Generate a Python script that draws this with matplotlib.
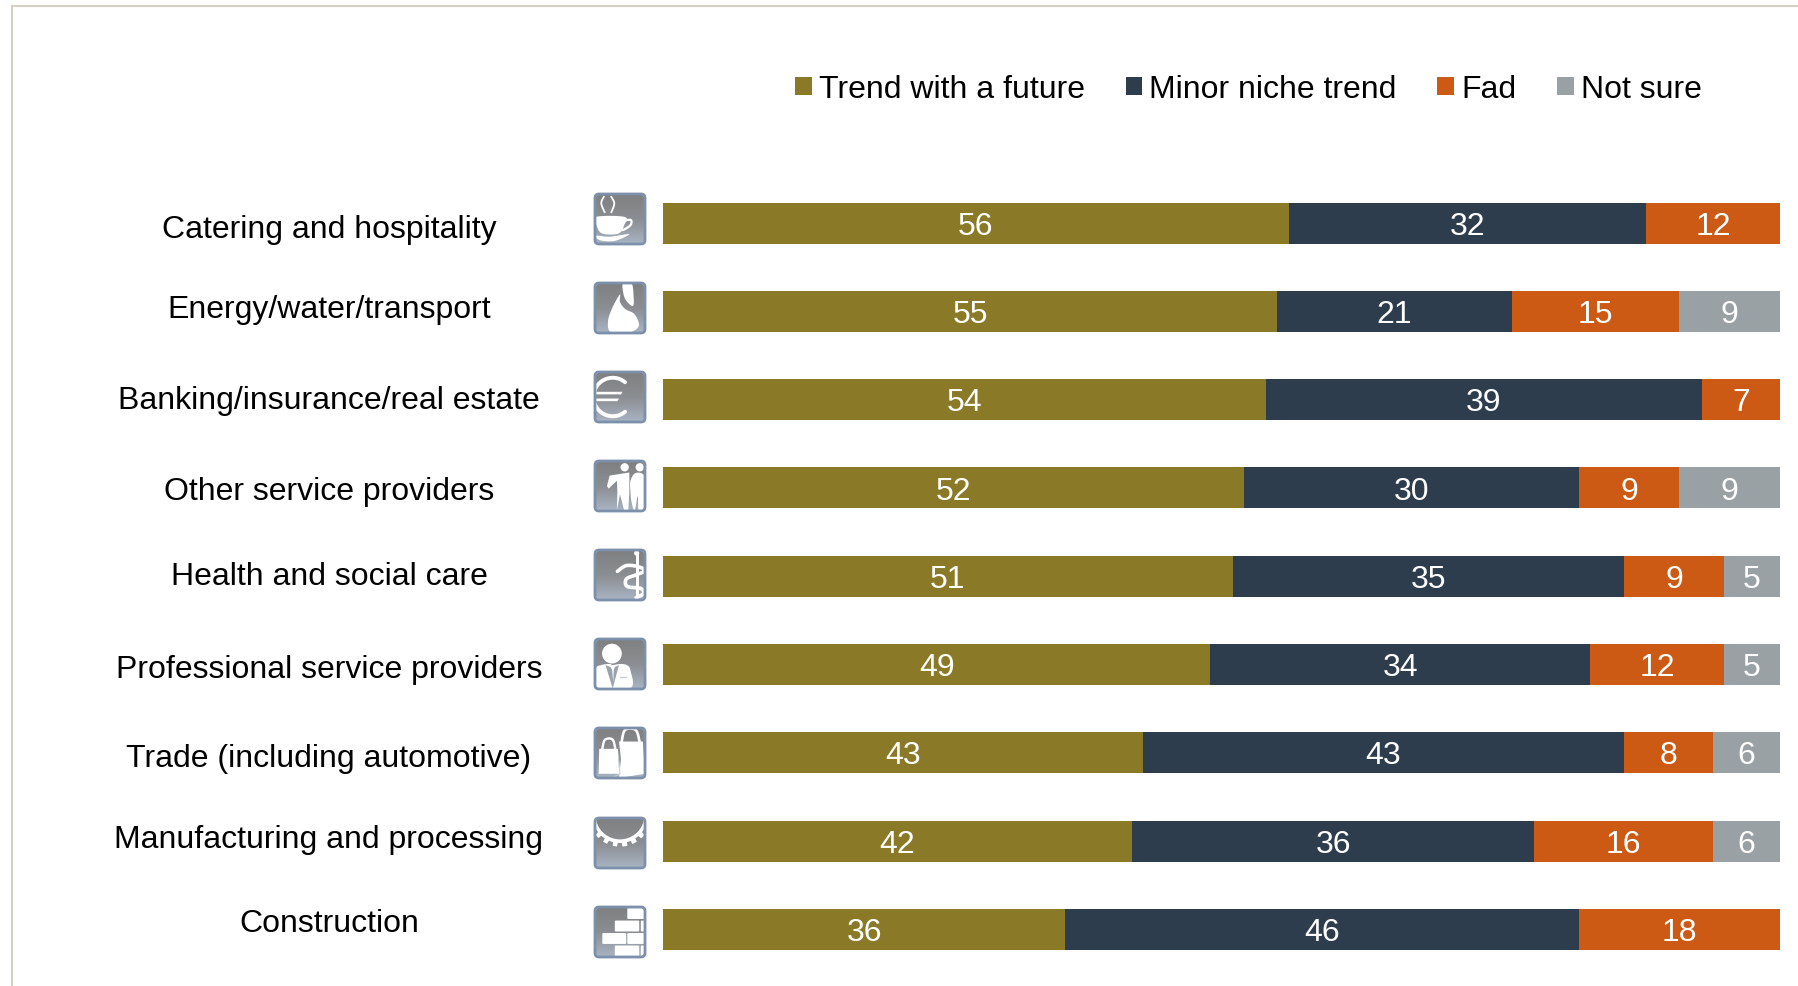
"""
    Stacked bars: how each industry rates the trend, with a small pictogram per row
"""

import matplotlib
matplotlib.use("Agg")
import matplotlib.pyplot as plt
from matplotlib.patches import FancyBboxPatch, Polygon, Circle
from matplotlib.colors import LinearSegmentedColormap
import numpy as np

plt.rcParams['font.family'] = ['Liberation Sans', 'DejaVu Sans']

W, H = 1799, 987

industries = ["Catering and hospitality", "Energy/water/transport", "Banking/insurance/real estate",
              "Other service providers", "Health and social care", "Professional service providers",
              "Trade (including automotive)", "Manufacturing and processing", "Construction"]

series_names = ["Trend with a future", "Minor niche trend", "Fad", "Not sure"]
trend_future = [56, 55, 54, 52, 51, 49, 43, 42, 36]
minor_niche = [32, 21, 39, 30, 35, 34, 43, 36, 46]
fad = [12, 15, 7, 9, 9, 12, 8, 16, 18]
not_sure = [0, 9, 0, 9, 5, 5, 6, 6, 0]

COLORS = ["#8a7a28", "#2e3d4e", "#cc5a14", "#9aa1a5"]
FRAME = "#d4cfc0"
ICON_EDGE = "#7c90ab"
FONT = 23

# pixel layout of the row labels and pictograms
label_y = [230, 310, 401, 492, 577, 670, 759, 840, 924]
icon_top = [194, 283, 372, 461, 550, 639, 728, 818, 907]
ICON_X = 594
ICON_S = 52

fig = plt.figure(figsize=(W / 100, H / 100), dpi=100, facecolor="white")

# full figure overlay in pixel units, y pointing down
px = fig.add_axes([0, 0, 1, 1])
px.set_xlim(0, W)
px.set_ylim(H, 0)
px.axis("off")

ax = fig.add_axes([663 / W, 1 - 974.5 / H, 1117 / W, (974.5 - 180) / H])
ax.set_xlim(0, 100)
ax.set_ylim(8.5, -0.5)
ax.axis("off")

left = np.zeros(len(industries))
all_series = [trend_future, minor_niche, fad, not_sure]
handles = []
for name, vals, col in zip(series_names, all_series, COLORS):
    vals = np.array(vals)
    bars = ax.barh(range(len(vals)), vals, left=left, height=0.465, color=col, label=name)
    handles.append(bars)
    for i, v in enumerate(vals):
        if v > 0:
            ax.text(left[i] + v / 2, i + 0.03, str(v), ha="center", va="center",
                    color="white", fontsize=FONT)
    left += vals

leg = fig.legend(handles=handles, ncols=4, loc="center left", bbox_to_anchor=(795 / W, 1 - 90.5 / H),
                 frameon=False, fontsize=FONT, handlelength=0.52, handleheight=0.52,
                 handletextpad=0.23, columnspacing=1.27, borderpad=0, borderaxespad=0)

for name, y in zip(industries, label_y):
    px.text(329, y, name, ha="center", va="center", fontsize=FONT, color="black")

# thin frame on the top and left
px.plot([12, 12, W], [H, 7, 7], color=FRAME, lw=1.5, solid_joinstyle="miter")


def smooth(pts, closed=True, n=12):
    # Catmull-Rom through the given points
    p = np.array(pts, dtype=float)
    if closed:
        p = np.vstack([p[-1], p, p[0], p[1]])
    else:
        p = np.vstack([p[0], p, p[-1]])
    out = []
    for i in range(1, len(p) - 2):
        for t in np.linspace(0, 1, n, endpoint=False):
            a = 2 * p[i] + (p[i + 1] - p[i - 1]) * t
            b = (2 * p[i - 1] - 5 * p[i] + 4 * p[i + 1] - p[i + 2]) * t * t
            c = (-p[i - 1] + 3 * p[i] - 3 * p[i + 1] + p[i + 2]) * t * t * t
            out.append(0.5 * (a + b + c))
    return np.array(out)


class Icon:
    def __init__(self, top):
        self.x0, self.y0 = ICON_X, top
        cmap = LinearSegmentedColormap.from_list("icon", ["#7f7f7f", "#8b8e92", "#aab5c4"])
        self.clip = FancyBboxPatch((self.x0 + 2, top + 2), ICON_S - 4, ICON_S - 4,
                                   boxstyle="round,pad=0,rounding_size=3",
                                   fc="none", ec="none", transform=px.transData)
        px.add_patch(self.clip)
        im = px.imshow(np.linspace(0, 1, 64)[:, None], cmap=cmap, aspect="auto",
                       extent=(self.x0, self.x0 + ICON_S, top + ICON_S, top), zorder=2)
        im.set_clip_path(self.clip)
        px.add_patch(FancyBboxPatch((self.x0 + 1, top + 1), ICON_S - 2, ICON_S - 2,
                                    boxstyle="round,pad=0,rounding_size=4",
                                    fc="none", ec=ICON_EDGE, lw=2, zorder=5))

    def xy(self, pts):
        p = np.array(pts, dtype=float)
        return np.column_stack([self.x0 + p[:, 0] * ICON_S, self.y0 + p[:, 1] * ICON_S])

    def fill(self, pts, color="white"):
        s = Polygon(self.xy(pts), closed=True, fc=color, ec="none", zorder=3)
        px.add_patch(s)
        s.set_clip_path(self.clip)

    def line(self, pts, lw=2, color="white"):
        p = self.xy(pts)
        l, = px.plot(p[:, 0], p[:, 1], color=color, lw=lw, zorder=3, solid_capstyle="round")
        l.set_clip_path(self.clip)

    def disc(self, x, y, r):
        s = Circle((self.x0 + x * ICON_S, self.y0 + y * ICON_S), r * ICON_S, fc="white", ec="none", zorder=3)
        px.add_patch(s)
        s.set_clip_path(self.clip)

    def rect(self, x, y, w, h):
        s = FancyBboxPatch((self.x0 + x * ICON_S, self.y0 + y * ICON_S), w * ICON_S, h * ICON_S,
                           boxstyle="round,pad=0,rounding_size=1", fc="white", ec="none", zorder=3)
        px.add_patch(s)
        s.set_clip_path(self.clip)


def cup(ic):
    ic.fill(smooth([(.03, .46), (.59, .46), (.58, .62), (.47, .78), (.16, .78), (.05, .63)]))
    ic.line(smooth([(.59, .53), (.71, .52), (.70, .62), (.55, .72)], closed=False), lw=1.6)
    ic.fill(smooth([(.03, .82), (.30, .84), (.68, .79), (.40, .92), (.12, .91)]))
    ic.line(smooth([(.19, .07), (.14, .20), (.21, .38)], closed=False), lw=1.3)
    ic.line(smooth([(.33, .07), (.39, .20), (.33, .38)], closed=False), lw=1.3)


def flame(ic):
    ic.fill(smooth([(.50, .24), (.36, .48), (.27, .75), (.32, .96), (.65, .98), (.86, .85),
                    (.78, .62), (.60, .52), (.50, .38)]))
    ic.fill(smooth([(.56, .02), (.72, .02), (.76, .25), (.75, .46), (.62, .36), (.56, .20)]))


def euro(ic):
    t = np.linspace(np.radians(50), np.radians(310), 50)
    ic.line(np.column_stack([.36 + .37 * np.cos(t), .50 + .37 * np.sin(t)]), lw=2.8)
    ic.fill([(.02, .40), (.55, .40), (.52, .45), (.02, .45)])
    ic.fill([(.02, .53), (.48, .53), (.45, .58), (.02, .58)])


def people(ic):
    ic.disc(.59, .14, .08)
    ic.disc(.88, .14, .08)
    ic.fill([(.30, .30), (.68, .24), (.68, .60), (.66, .97), (.58, .97), (.50, .66), (.44, .97),
             (.45, .62), (.44, .40), (.28, .55), (.25, .50)])
    ic.fill(smooth([(.80, .25), (.97, .30), (1.0, .60), (.97, .97), (.86, .97), (.84, .70),
                    (.78, .97), (.72, .80), (.70, .60), (.70, .40)]))


def staff(ic):
    ic.disc(.82, .08, .05)
    ic.fill([(.80, .10), (.86, .10), (.86, 1.0), (.80, 1.0)])
    ic.line(smooth([(.45, .43), (.62, .32), (.85, .34), (.98, .42), (.80, .50), (.62, .58), (.64, .72),
                    (.90, .76), (.95, .86), (.80, .94)], closed=False), lw=2.6)


def person(ic):
    ic.disc(.345, .30, .19)
    ic.fill(smooth([(.03, .60), (.14, .52), (.30, .50), (.36, .52), (.50, .50), (.63, .52), (.70, .62),
                    (.70, .97), (.05, .97)], n=6))
    ic.fill([(.22, .52), (.36, .97), (.48, .52), (.40, .56), (.38, .62), (.37, .85), (.35, .62),
             (.32, .56)], color="#9aa3ad")
    ic.line([(.50, .75), (.62, .75)], lw=1, color="#c5ccd4")


def bags(ic):
    ic.fill([(.10, .42), (.46, .42), (.50, .90), (.09, .90)])
    ic.line(smooth([(.16, .42), (.20, .26), (.29, .22), (.37, .26), (.41, .42)], closed=False), lw=1.7)
    ic.fill([(.48, .28), (.94, .28), (.98, .90), (.48, .98), (.52, .62)])
    ic.line(smooth([(.53, .30), (.58, .08), (.70, .03), (.82, .08), (.88, .30)], closed=False), lw=1.9)
    ic.line([(.47, .62), (.50, .90), (.38, .96)], lw=.8, color="#c8cfd8")


def gear(ic):
    # toothed band below a dark half disc
    t = np.linspace(np.pi, 0, 180)
    outer = .565 + .035 * np.sign(np.sin(t * 19 - .1))
    pts_out = np.column_stack([.50 + outer * np.cos(t), -.03 + outer * np.sin(t)])
    inner = np.column_stack([.50 + .47 * np.cos(t[::-1]), -.04 + .47 * np.sin(t[::-1])])
    ic.fill(np.vstack([pts_out, inner]))


def bricks(ic):
    for x, y, w in [(.64, .04, .36), (.40, .28, .47), (.90, .28, .14), (.16, .52, .46),
                    (.64, .52, .40), (.40, .76, .47), (.90, .76, .14)]:
        ic.rect(x, y, w, .21)


for top, draw in zip(icon_top, [cup, flame, euro, people, staff, person, bags, gear, bricks]):
    draw(Icon(top))

px.set_xlim(0, W)
px.set_ylim(H, 0)

fig.savefig("out.png", dpi=100)
